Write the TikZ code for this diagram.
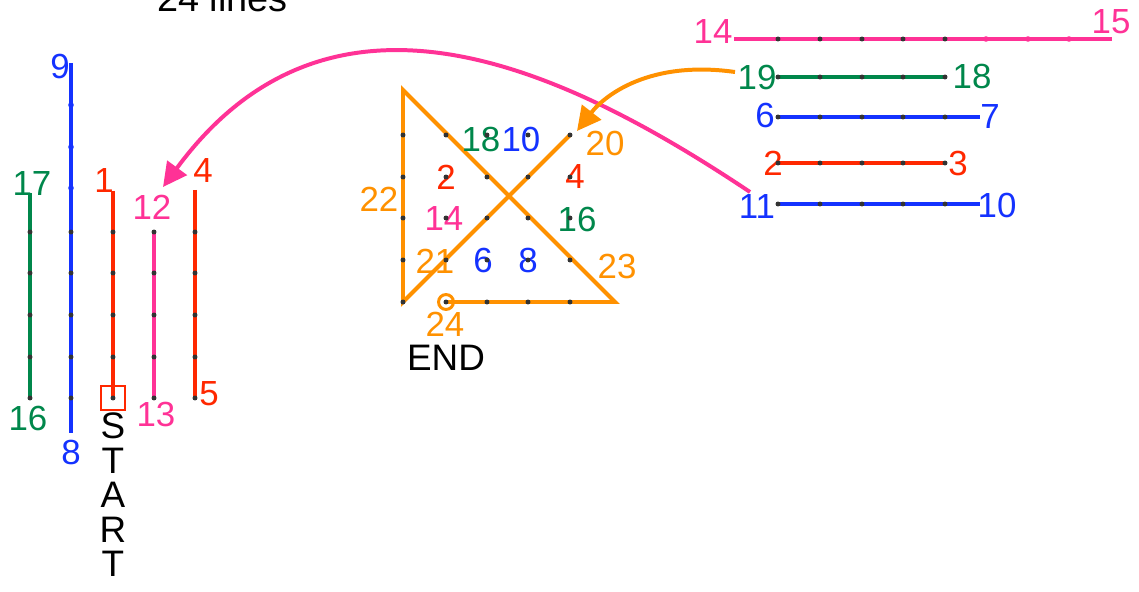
\documentclass[tikz,border=0pt]{standalone}
\usepackage{fontspec}
\setmainfont{Liberation Sans}
\usetikzlibrary{arrows.meta}

\definecolor{lnblue}{RGB}{20,50,255}
\definecolor{lnred}{RGB}{255,40,0}
\definecolor{lngreen}{RGB}{0,135,75}
\definecolor{lnpink}{RGB}{255,50,150}
\definecolor{lnorange}{RGB}{255,145,0}

\tikzset{
  num/.style={font=\fontsize{35}{35}\selectfont, inner sep=0pt},
  word/.style={font=\fontsize{37}{34.5}\selectfont, inner sep=0pt, align=center},
  seg/.style={line width=4pt},
  bigtip/.style={-{Triangle[length=24pt,width=24pt]}},
}

\begin{document}
\begin{tikzpicture}[x=1bp, y=-1bp]
		\useasboundingbox (0,0) rectangle (1139,592);
		
		% Title, cut off at the top
		\node[font=\fontsize{38}{38}\selectfont, inner sep=0pt, anchor=base west] (title) at (157,12) {24 lines};
		
		% End points of the left lines
		\coordinate (a17) at (30,193);   \coordinate (a16) at (30,398);
		\coordinate (a9) at (71,63);     \coordinate (a8) at (71,433);
		\coordinate (a1) at (113,191);   \coordinate (aS) at (113,398);
		\coordinate (a12) at (154,232);  \coordinate (a13) at (154,398);
		\coordinate (a4) at (195,190);   \coordinate (a5) at (195,400);
		
		% Left lines
		\draw[seg, lngreen] (a17) -- (a16);
		\draw[seg, lnblue] (a9) -- (a8);
		\draw[seg, lnred] (a1) -- (aS);
		\draw[seg, lnpink] (a12) -- (a13);
		\draw[seg, lnred] (a4) -- (a5);
		\node[draw=lnred, line width=2.5pt, minimum size=24bp, inner sep=0pt] (startbox) at (aS) {};
		
		% Labels of the left lines
		\node[num, lnblue] (l9) at (60,66) {9};
		\node[num, lngreen] (l17) at (32,184) {17};
		\node[num, lnred] (l1) at (104,181) {1};
		\node[num, lnpink] (l12) at (152,207) {12};
		\node[num, lnred] (l4) at (203,171) {4};
		\node[num, lngreen] (l16) at (28,418) {16};
		\node[num, lnblue] (l8) at (71,452) {8};
		\node[num, lnpink] (l13) at (156,414) {13};
		\node[num, lnred] (l5) at (209,394) {5};
		\node[word, anchor=north] (start) at (113,413) {S\\T\\A\\R\\T};
		
		% End points of the right lines
		\coordinate (b14) at (734,39);   \coordinate (b15) at (1112,39);
		\coordinate (b19) at (778,77);   \coordinate (b18) at (945,77);
		\coordinate (b6) at (778,117);   \coordinate (b7) at (980,117);
		\coordinate (b2) at (778,163);   \coordinate (b3) at (945,163);
		\coordinate (b11) at (778,204);  \coordinate (b10) at (980,204);
		
		% Right lines
		\draw[seg, lnpink] (b14) -- (b15);
		\draw[seg, lngreen] (b19) -- (b18);
		\draw[seg, lnblue] (b6) -- (b7);
		\draw[seg, lnred] (b2) -- (b3);
		\draw[seg, lnblue] (b11) -- (b10);
		
		% Labels of the right lines
		\node[num, lnpink] (r14) at (713,32) {14};
		\node[num, lnpink] (r15) at (1111,22) {15};
		\node[num, lngreen] (r19) at (757,77) {19};
		\node[num, lngreen] (r18) at (972,76) {18};
		\node[num, lnblue] (r6) at (765,115) {6};
		\node[num, lnblue] (r7) at (990,117) {7};
		\node[num, lnred] (r2) at (773,163) {2};
		\node[num, lnred] (r3) at (958,163) {3};
		\node[num, lnblue] (r11) at (757,207) {11};
		\node[num, lnblue] (r10) at (997,205) {10};
		
		% Corners of the triangle
		\coordinate (c20) at (570,135);
		\coordinate (cbl) at (403,302);
		\coordinate (ctop) at (403,90);
		\coordinate (cbr) at (615,302);
		\coordinate (c24) at (446,302);
		
		% The orange lines 20 to 24
		\draw[seg, lnorange, line join=miter] (c20) -- (cbl) -- (ctop) -- (cbr) -- (c24);
		\draw[lnorange, line width=3pt] (c24) circle (7.5pt);
		
		% Curved jumps
		\coordinate (pinktip) at (163,187);
		\coordinate (orangestart) at (735,72);
		\coordinate (orangetip) at (577,131);
		\draw[seg, lnpink, bigtip] (750,192) .. controls (560,65) and (330,-40) .. (pinktip);
		\draw[seg, lnorange, bigtip] (orangestart) .. controls (650,60) and (605,95) .. (orangetip);
		
		% Labels in and round the triangle
		\node[num, lngreen] (t18) at (481,139) {18};
		\node[num, lnblue] (t10) at (521,139) {10};
		\node[num, lnred] (t2) at (446,177) {2};
		\node[num, lnred] (t4) at (575,177) {4};
		\node[num, lnpink] (t14) at (444,219) {14};
		\node[num, lngreen] (t16) at (577,219) {16};
		\node[num, lnorange] (t22) at (379,199) {22};
		\node[num, lnorange] (t21) at (435,261) {21};
		\node[num, lnblue] (t6) at (483,260) {6};
		\node[num, lnblue] (t8) at (528,260) {8};
		\node[num, lnorange] (t23) at (617,266) {23};
		\node[num, lnorange] (t24) at (445,324) {24};
		\node[num, lnorange] (t20) at (605,143) {20};
		\node[word] (endword) at (446,358) {END};
		
		% Grid dots
		\foreach \x in {30,71,113,154,195}
			\foreach \y in {232,273,315,357,398}
				\fill[black!80] (\x,\y) circle (2.5pt);
		\foreach \x in {403,446,487,528,570}
			\foreach \y in {135,177,218,260,302}
				\fill[black!80] (\x,\y) circle (2.5pt);
		\foreach \x in {778,820,862,903,945}
			\foreach \y in {39,77,117,163,204}
				\fill[black!80] (\x,\y) circle (2.5pt);
		\foreach \y in {105,147,188}
			\fill[lnblue] (71,\y) circle (2.8pt);
		\foreach \x in {986,1028,1069}
			\fill[lnpink] (\x,39) circle (2.8pt);
		
	\end{tikzpicture}
\end{document}
